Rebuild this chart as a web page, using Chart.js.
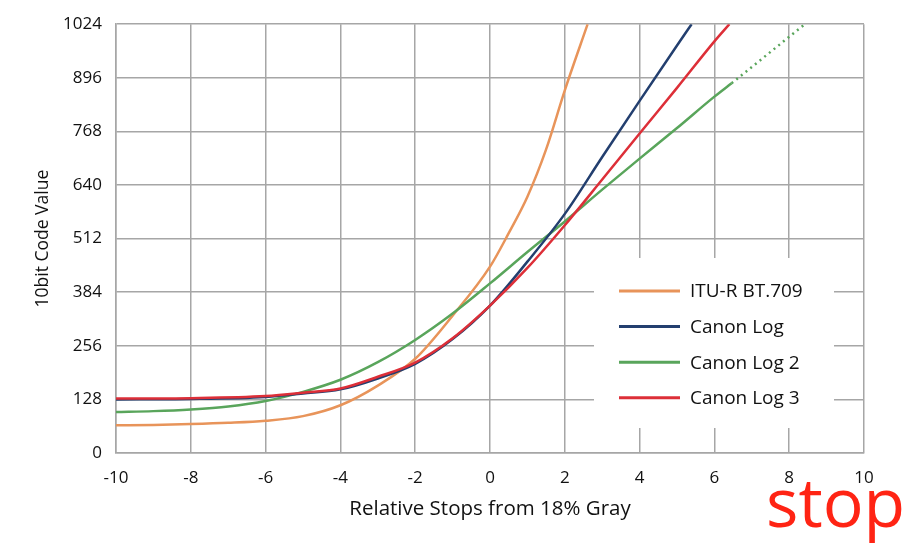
<!DOCTYPE html>
<html>
<head>
<meta charset="utf-8">
<script src="https://cdn.jsdelivr.net/npm/chart.js@4"></script>
<style>
  html, body { margin: 0; padding: 0; background: #fff; }
  #wrap { position: relative; width: 913px; height: 545px; }
</style>
</head>
<body>
<div id="wrap"><canvas id="chart"></canvas></div>
<script>
// values (x = stops from 18% gray, y = 10bit code value)
var bt709Stops  = [-10, -9, -8, -7, -6, -5, -4, -3, -2, -1, 0, 0.5, 1, 1.5, 2, 2.61];
var bt709Values = [66, 67, 69, 72, 77, 88, 114, 161, 225, 328, 445, 525, 612, 725, 866, 1024];

var cLogStops  = [-10, -8, -6, -5, -4, -3, -2, -1, 0, 1, 2, 3, 4, 5, 5.39];
var cLogValues = [128, 129, 134, 142, 152, 178, 213, 272, 352, 457, 571, 707, 841, 973, 1024];

var cLog2Stops  = [-10, -9, -8, -7, -6, -5, -4, -3, -2, -1, 0, 1, 2, 3, 4, 5, 6, 6.46];
var cLog2Values = [98, 100, 104, 111, 124, 146, 175, 217, 270, 333, 405, 480, 553, 629, 703, 776, 851, 883];
// dotted continuation of Canon Log 2
var cLog2ExtStops  = [6.46, 8.42];
var cLog2ExtValues = [883, 1024];

var cLog3Stops  = [-10, -8, -6, -5, -4, -3, -2, -1, 0, 1, 2, 3, 4, 5, 6, 6.4];
var cLog3Values = [130, 131, 136, 144, 154, 182, 216, 274, 352, 442, 544, 653, 763, 872, 983, 1024];

var xTicks = [-10, -8, -6, -4, -2, 0, 2, 4, 6, 8, 10];
var yTicks = [0, 128, 256, 384, 512, 640, 768, 896, 1024];

var legendNames = ['ITU-R BT.709', 'Canon Log', 'Canon Log 2', 'Canon Log 3'];

function pts(xs, ys) {
    return xs.map(function(x, i) { return { x: x, y: ys[i] }; });
}

var FONT = '"Open Sans", "Noto Sans", sans-serif';
var gridColor = '#a6a6a6';

// white legend box sitting over the grid
var legendBox = {
    id: 'legendBox',
    beforeDatasetsDraw: function(chart) {
        var ctx = chart.ctx;
        ctx.save();
        ctx.fillStyle = '#fff';
        ctx.fillRect(594, 258, 240, 170);
        var items = chart.data.datasets.filter(function(d) { return d.inLegend; });
        items.sort(function(a, b) { return a.legendIndex - b.legendIndex; });
        ctx.font = '19px ' + FONT;
        ctx.textBaseline = 'middle';
        items.forEach(function(d, i) {
            var y = 291 + i * 35.6;
            ctx.strokeStyle = d.borderColor;
            ctx.lineWidth = 3;
            ctx.beginPath();
            ctx.moveTo(619, y);
            ctx.lineTo(680, y);
            ctx.stroke();
            ctx.fillStyle = '#111';
            ctx.fillText(d.label, 690, y + 1);
        });
        ctx.restore();
    },
    afterDraw: function(chart) {
        var ctx = chart.ctx;
        ctx.save();
        ctx.fillStyle = '#ff2414';
        ctx.font = '68px ' + FONT;
        ctx.textBaseline = 'alphabetic';
        ctx.fillText('stop', 766, 527);
        ctx.restore();
    }
};

var lineBase = {
    pointRadius: 0,
    borderWidth: 2.5,
    fill: false,
    cubicInterpolationMode: 'monotone'
};

new Chart(document.getElementById('chart'), {
    type: 'line',
    data: {
        datasets: [
            Object.assign({}, lineBase, { label: legendNames[3], data: pts(cLog3Stops, cLog3Values), borderColor: '#dd2f38', inLegend: true, legendIndex: 3, order: 0 }),
            Object.assign({}, lineBase, { label: legendNames[1], data: pts(cLogStops, cLogValues), borderColor: '#233f6f', inLegend: true, legendIndex: 1, order: 1 }),
            Object.assign({}, lineBase, { label: legendNames[2], data: pts(cLog2Stops, cLog2Values), borderColor: '#59a55b', inLegend: true, legendIndex: 2, order: 2 }),
            Object.assign({}, lineBase, { label: legendNames[2] + ' ext', data: pts(cLog2ExtStops, cLog2ExtValues), borderColor: '#59a55b', borderDash: [2, 4], borderWidth: 2.5, inLegend: false, order: 2 }),
            Object.assign({}, lineBase, { label: legendNames[0], data: pts(bt709Stops, bt709Values), borderColor: '#e8945a', inLegend: true, legendIndex: 0, order: 3 })
        ]
    },
    options: {
        responsive: true,
        maintainAspectRatio: false,
        animation: false,
        layout: { padding: { top: 20, right: 49, bottom: 0, left: 0 } },
        plugins: {
            legend: { display: false },
            tooltip: { enabled: false }
        },
        scales: {
            x: {
                type: 'linear',
                min: -10,
                max: 10,
                afterBuildTicks: function(scale) {
                    scale.ticks = xTicks.map(function(v) { return { value: v }; });
                },
                afterFit: function(scale) { scale.height = 92; },
                grid: { color: gridColor, lineWidth: 1.5, drawTicks: false },
                border: { color: gridColor, width: 1.5 },
                ticks: {
                    color: '#111', padding: 15, font: { family: FONT, size: 17 },
                    callback: function(v) { return String(v); }
                },
                title: {
                    display: true,
                    text: 'Relative Stops from 18% Gray',
                    color: '#111',
                    font: { family: FONT, size: 20.5 },
                    padding: { top: 24, bottom: 24 }
                }
            },
            y: {
                type: 'linear',
                min: 0,
                max: 1024,
                afterBuildTicks: function(scale) {
                    scale.ticks = yTicks.map(function(v) { return { value: v }; });
                },
                afterFit: function(scale) { scale.width = 116; },
                grid: { color: gridColor, lineWidth: 1.5, drawTicks: false },
                border: { color: gridColor, width: 1.5 },
                ticks: {
                    color: '#111', padding: 14, font: { family: FONT, size: 17 },
                    callback: function(v) { return String(v); }
                },
                title: {
                    display: true,
                    text: '10bit Code Value',
                    color: '#111',
                    font: { family: FONT, size: 17.5 },
                    padding: { top: 33, bottom: 33 }
                }
            }
        }
    },
    plugins: [legendBox]
});
</script>
</body>
</html>
